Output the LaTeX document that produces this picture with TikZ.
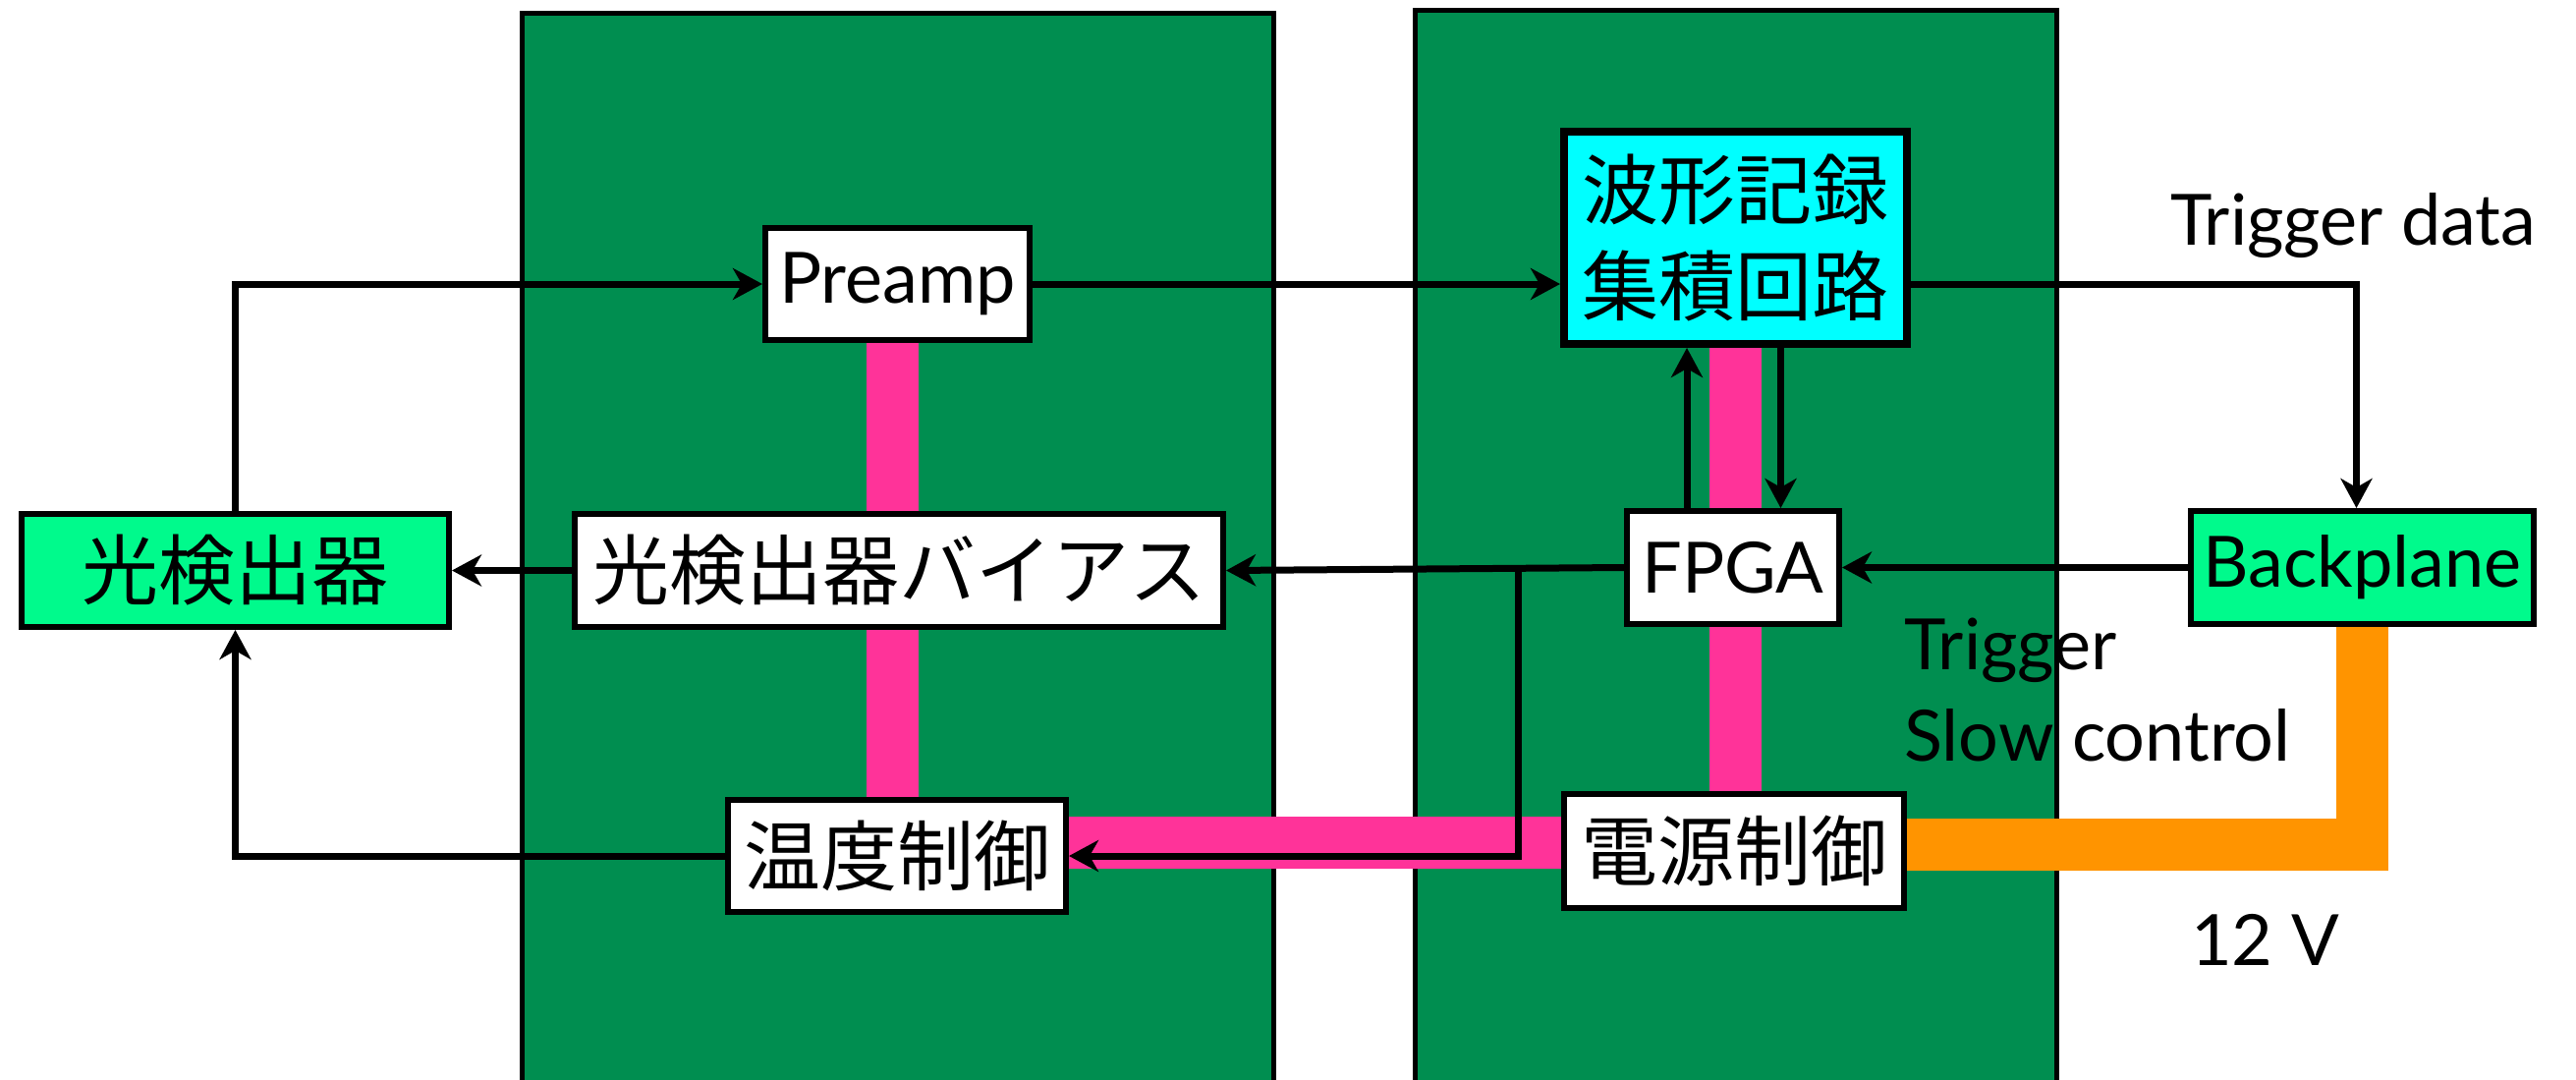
\documentclass[tikz,border=0pt]{standalone}
\usepackage{fontspec}
\setmainfont{Lato}
\newfontfamily\cjk{Noto Sans CJK JP}
\usetikzlibrary{arrows.meta}
\definecolor{boardgreen}{RGB}{0,142,80}
\definecolor{pinkband}{RGB}{255,51,153}
\definecolor{cyanbox}{RGB}{0,255,255}
\definecolor{greenbox}{RGB}{0,250,140}
\definecolor{orangeband}{RGB}{255,148,0}
\pgfdeclarelayer{boards}
\pgfdeclarelayer{bands}
\pgfsetlayers{boards,bands,main}
\begin{document}
\begin{tikzpicture}[x=1pt,y=-1pt,
  blk/.style={draw=black, line width=6pt, fill=white, inner sep=0pt, align=center},
  jp/.style={font=\cjk\fontsize{78}{98}\selectfont},
  lat/.style={font=\fontsize{72}{86}\selectfont},
  lbl/.style={inner sep=0pt, anchor=base west, font=\fontsize{72}{86}\selectfont},
  conn/.style={draw=black, line width=7pt, -{Stealth[length=30pt,width=32pt,inset=9pt]}},
  board/.style={draw=black, line width=5pt, fill=boardgreen},
  pinkbar/.style={draw=pinkband, line width=53pt},
  orangebar/.style={draw=orangeband, line width=53pt, line join=miter}
]
\useasboundingbox (0,0) rectangle (2622,1098);
\begin{pgfonlayer}{boards}
\path[board] (531,13) rectangle (1296,1140);
\path[board] (1440,10) rectangle (2093,1140);
\end{pgfonlayer}

\node[blk, jp, fill=greenbox, minimum width=435pt, minimum height=115pt] (det) at (239.5,580.5) {光検出器};
\node[blk, jp, minimum width=660pt, minimum height=115pt] (bias) at (915,580.5) {光検出器バイアス};
\node[blk, lat, minimum width=269pt, minimum height=114pt] (preamp) at (913.5,289) {Preamp};
\node[blk, jp, minimum width=344pt, minimum height=114pt] (temp) at (913,871) {温度制御};
\node[blk, jp, fill=cyanbox, line width=8pt, minimum width=349pt, minimum height=216pt] (wave) at (1766.5,242) {波形記録\\集積回路};
\node[blk, lat, minimum width=216pt, minimum height=115pt] (fpga) at (1764,577.5) {FPGA};
\node[blk, lat, fill=greenbox, minimum width=349pt, minimum height=115pt] (back) at (2404.5,577.5) {Backplane};
\node[blk, jp, minimum width=346pt, minimum height=116pt] (power) at (1765,866) {電源制御};

\node[lbl] (tdata) at (2209,249) {Trigger data};
\node[lbl] (trig) at (1938,681) {Trigger};
\node[lbl] (slow) at (1938,774) {Slow control};
\node[lbl] (v12) at (2230,982) {12 V};

\begin{pgfonlayer}{bands}
\path[pinkbar] ([xshift=-5pt]preamp.south) -- ([xshift=-5pt]preamp.south |- temp.north);
\path[pinkbar] (wave.south) -- (wave.south |- power.north);
\path[pinkbar] ([yshift=14pt]temp.east) -- ([yshift=14pt]temp.east -| power.west);
\path[orangebar] ([yshift=6.5pt]power.east) -| (back.south);
\end{pgfonlayer}

\coordinate (br) at (1545,581);
\draw[conn] (det.north) |- (preamp.west);
\draw[conn] (preamp.east) -- (preamp.east -| wave.west);
\draw[conn] (preamp.east -| wave.east) -| ([xshift=-6pt]back.north);
\draw[conn] (back.west) -- (fpga.east);
\draw[conn] (fpga.west) -- (bias.east);
\draw[conn] (br) |- (temp.east);
\draw[conn] (temp.west) -| (det.south);
\draw[conn] (bias.west) -- (det.east);
\draw[conn] ([xshift=-47pt]fpga.north) -- ([xshift=-47pt]fpga.north |- wave.south);
\draw[conn] ([xshift=46pt]wave.south) -- ([xshift=46pt]wave.south |- fpga.north);
\end{tikzpicture}
\end{document}
